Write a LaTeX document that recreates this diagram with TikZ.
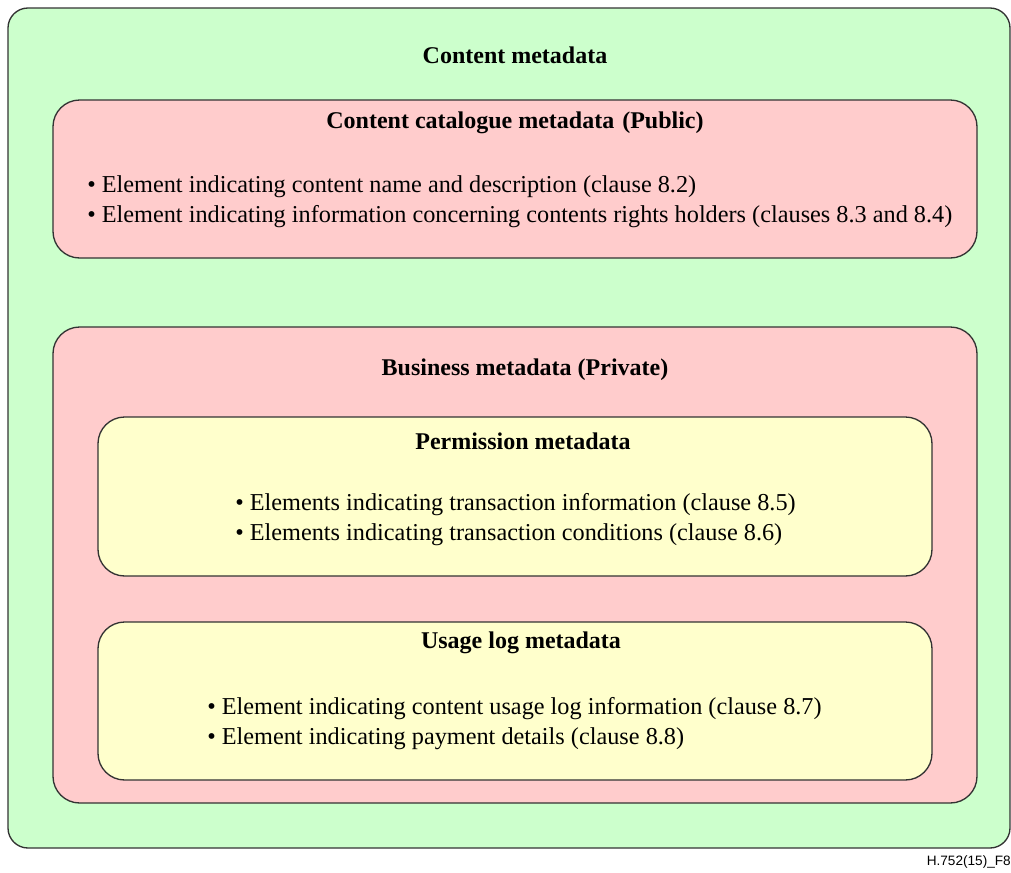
\documentclass[tikz,border=0pt]{standalone}
\usepackage{fontspec}
\setmainfont{Liberation Serif}
\newfontfamily\labelfont{Liberation Sans}
\definecolor{boxgreen}{HTML}{CCFFCC}
\definecolor{boxpink}{HTML}{FFCCCC}
\definecolor{boxyellow}{HTML}{FFFFCC}
\definecolor{edge}{HTML}{333333}
\begin{document}
\begin{tikzpicture}[x=0.75pt,y=-0.75pt,
  panel/.style={draw=edge,line width=1pt,rounded corners=15pt},
  ttl/.style={font=\fontsize{18}{21}\selectfont\bfseries,inner sep=0pt},
  items/.style={font=\fontsize{18.2}{22.5}\selectfont,align=left,inner sep=0pt,anchor=west}]
\useasboundingbox (0,0) rectangle (1011,872);
\filldraw[panel,fill=boxgreen] (8,8) rectangle (1010,848);
\filldraw[panel,fill=boxpink,rounded corners=20pt] (53,100) rectangle (977,258);
\filldraw[panel,fill=boxpink,rounded corners=20pt] (53,327) rectangle (977,803);
\filldraw[panel,fill=boxyellow,rounded corners=20pt] (98,417) rectangle (932,576);
\filldraw[panel,fill=boxyellow,rounded corners=20pt] (98,622) rectangle (932,780);
\node[ttl] (t0) at (515,55) {Content metadata};
\node[ttl] (t1) at (515,123) {Content catalogue metadata\,\,(Public)};
\node[items] (b1) at (87,202) {• Element indicating content name and description (clause 8.2)\\• Element indicating information concerning contents rights holders (clauses 8.3 and 8.4)};
\node[ttl] (t2) at (525,370) {Business metadata (Private)};
\node[ttl] (t3) at (523,441) {Permission metadata};
\node[items] (b3) at (235,520) {• Elements indicating transaction information (clause 8.5)\\• Elements indicating transaction conditions (clause 8.6)};
\node[ttl] (t4) at (521,643) {Usage log metadata};
\node[items] (b4) at (207,724) {• Element indicating content usage log information (clause 8.7)\\• Element indicating payment details (clause 8.8)};
\node[font=\labelfont\fontsize{10.2}{12}\selectfont,anchor=east,inner sep=0pt] (fig) at (1011,862) {H.752(15)\_F8};
\end{tikzpicture}
\end{document}
